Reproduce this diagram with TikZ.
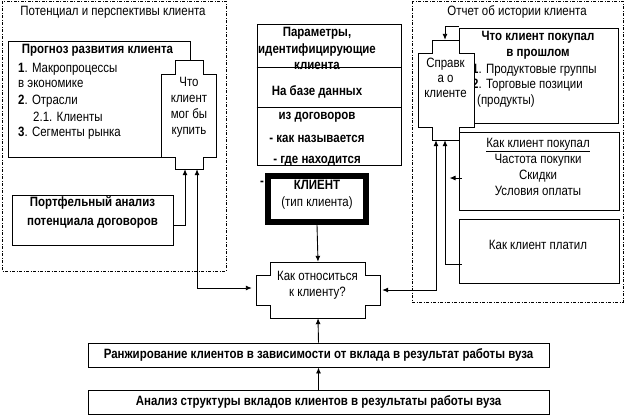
\documentclass[tikz,border=0pt]{standalone}
\usepackage{fontspec}
\setmainfont{Liberation Sans}[FakeStretch=0.85]
\usetikzlibrary{arrows.meta}
\newcommand{\fs}{\fontsize{13.5}{16}\selectfont}
\begin{document}
\begin{tikzpicture}[x=1pt,y=-1pt,
  box/.style={draw,line width=0.9pt,fill=white,inner sep=0pt},
  dbox/.style={draw,line width=0.9pt,dash pattern=on 3pt off 1.5pt on 1pt off 1.5pt},
  arr/.style={-{Latex[length=6pt,width=5pt]},line width=0.9pt},
  darr/.style={{Latex[length=6pt,width=5pt]}-{Latex[length=6pt,width=5pt]},line width=0.9pt},
  ln/.style={line width=0.9pt},
  txt/.style={font=\fs,inner sep=0pt,align=center},
  btxt/.style={font=\fs\bfseries,inner sep=0pt,align=center},
  ltxt/.style={font=\fs,inner sep=0pt,anchor=west},
]
\useasboundingbox (0,0) rectangle (626,416);
\fill[white] (0,0) rectangle (626,416);

% ---------- left dashed group
\draw[dbox] (2,1) rectangle (226,271);
\node[txt] (ttlL) at (113,12) {Потенциал и перспективы клиента};

\node[box,minimum width=182pt,minimum height=116pt] (prog) at (99,99) {};
\node[btxt] (progT) at (97.5,50) {Прогноз развития клиента};
\node[ltxt] (p1) at (18,69) {\textbf{1}. Макропроцессы};
\node[ltxt] (p2) at (18,84) {в экономике};
\node[ltxt] (p3) at (18,101) {\textbf{2}. Отрасли};
\node[ltxt] (p4) at (33,117) {2.1. Клиенты};
\node[ltxt] (p5) at (18,133) {\textbf{3}. Сегменты рынка};

\draw[box] (175,60) -- (203,60) -- (203,74) -- (216,74) -- (216,157) -- (203,157)
  -- (203,169) -- (175,169) -- (175,157) -- (161,157) -- (161,74) -- (175,74) -- cycle;
\node[inner sep=0pt,minimum width=55pt,minimum height=109pt] (can) at (188.5,114.5) {};
\node[txt] (canT) at (189,107) {Что\\клиент\\мог бы\\купить};

\node[box,minimum width=161pt,minimum height=50pt] (port) at (92.5,220) {};
\node[btxt,font=\fontsize{13.5}{19}\selectfont\bfseries] (portT) at (92.5,212.5) {Портфельный анализ\\потенциала договоров};

% ---------- middle
\node[box,minimum width=144pt,minimum height=141pt] (par) at (329,95) {};
\draw[ln] (par.west |- 0,67) -- (par.east |- 0,67);
\draw[ln] (par.west |- 0,107) -- (par.east |- 0,107);
\node[btxt] (pa1) at (317,33) {Параметры,};
\node[btxt] (pa2) at (317,50) {идентифицирующие};
\node[btxt] (pa3) at (317,66) {клиента};
\node[btxt] (pa4) at (317,92) {На базе данных};
\node[btxt] (pa5) at (317,117) {из договоров};
\node[btxt] (pa6) at (317,139) {- как называется};
\node[btxt] (pa7) at (317,161) {- где находится};
\node[btxt] (pa8) at (262,183) {-};

\node[draw,line width=6pt,fill=white,minimum width=98pt,minimum height=46pt,inner sep=0pt] (kl) at (317,199) {};
\node[btxt] (klT) at (317,185) {КЛИЕНТ};
\node[txt] (klT2) at (317,203) {(тип клиента)};

\draw[box] (270,262) -- (365,262) -- (365,275) -- (380,275) -- (380,305) -- (365,305)
  -- (365,318) -- (270,318) -- (270,305) -- (256,305) -- (256,275) -- (270,275) -- cycle;
\node[inner sep=0pt,minimum width=124pt,minimum height=56pt] (kak) at (318,290) {};
\node[txt] (kakT) at (317.5,285.5) {Как относиться\\к клиенту?};

\node[box,minimum width=461pt,minimum height=24pt] (ranj) at (318.5,355) {};
\node[btxt] (ranjT) at (318.5,355) {Ранжирование клиентов в зависимости от вклада в результат работы вуза};
\node[box,minimum width=461pt,minimum height=24pt] (anal) at (318.5,402) {};
\node[btxt] (analT) at (318.5,402) {Анализ структуры вкладов клиентов в результаты работы вуза};

% ---------- right dashed group
\draw[dbox] (412,1) rectangle (623,302);
\node[txt] (ttlR) at (517,12) {Отчет об истории клиента};

\node[box,minimum width=159pt,minimum height=95pt] (buy) at (538.5,75.5) {};
\node[btxt] (buyT) at (538,45.5) {Что клиент покупал\\в прошлом};
\node[ltxt] (b1) at (472,70) {\textbf{1}. Продуктовые группы};
\node[ltxt] (b2) at (472,85) {\textbf{2}. Торговые позиции};
\node[ltxt] (b3) at (477,101) {(продукты)};

\draw[box] (432,40) -- (459,40) -- (459,53) -- (474,53) -- (474,127) -- (459,127)
  -- (459,140) -- (432,140) -- (432,127) -- (418,127) -- (418,53) -- (432,53) -- cycle;
\node[inner sep=0pt,minimum width=56pt,minimum height=100pt] (spr) at (446,90) {};
\node[txt,font=\fontsize{13.5}{15}\selectfont] (sprT) at (445.5,77.5) {Справк\\а о\\клиенте};

\node[box,minimum width=160pt,minimum height=78pt] (how) at (539,171) {};
\node[txt] (howU) at (538,145) {\underline{Как клиент покупал}};
\node[txt] (howT) at (538,175) {Частота покупки\\Скидки\\Условия оплаты};

\node[box,minimum width=160pt,minimum height=64pt] (paid) at (539,251) {};
\node[txt] (paidT) at (538,245) {Как клиент платил};

% ---------- connectors
\draw[arr] ([yshift=-5pt]port.east) -| ([xshift=-3.5pt]can.south);
\draw[darr] ([xshift=8.5pt]can.south) |- ([xshift=-4pt,yshift=2pt]kak.west);
\draw[arr] (kl.south) -- (kak.north);
\draw[arr] (ranj.north) -- (kak.south);
\draw[arr] (anal.north) -- (ranj.south);
\draw[darr] ([xshift=-10pt]spr.south) |- ([xshift=2pt,yshift=0pt]kak.east);
\draw[arr] ([xshift=3pt,yshift=-13pt]paid.west) -| ([xshift=-1pt]spr.south);
\draw[arr] ([xshift=3pt,yshift=-7pt]how.west) -- ++(-12,0);
\draw[arr] ([yshift=1pt]buy.north west) -| ([xshift=-1pt]spr.north);
\end{tikzpicture}
\end{document}
